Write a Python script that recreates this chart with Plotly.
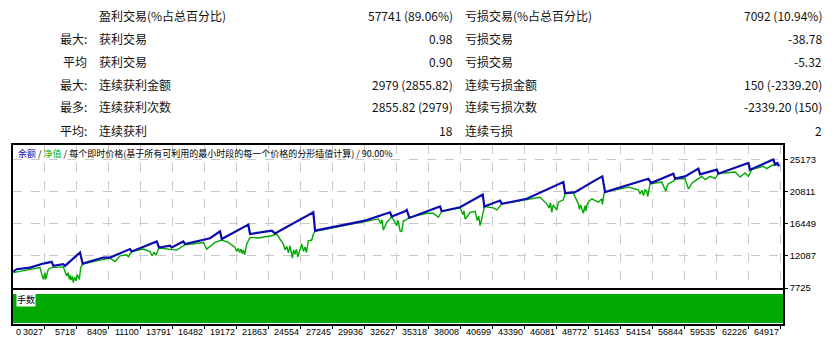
import plotly.graph_objects as go

# ---------------- data ----------------
bal_x = [445, 731, 1850, 2968, 3675, 3809, 4650, 4793, 6055, 6282,
         8014, 8578, 10260, 10403, 12505, 12699, 13624, 13767, 14742, 14885,
         16988, 17829, 17972, 20209, 20352, 22177, 22454, 25675, 25818, 30023,
         32126, 32268, 33387, 33530, 33748, 36330, 36473, 38012, 39921, 40056,
         41376, 41519, 43621, 46699, 46842, 47683, 49366, 49979, 50206, 53848,
         54075, 55950, 56093, 56934, 58052, 58195, 59600, 59734, 62257, 62400,
         64359, 64502, 64700, 64833]
bal_y = [9952, 10279, 10498, 11044, 11277, 10730, 10962, 10730, 12547, 11044,
         11864, 11864, 13011, 12684, 14050, 13230, 13462, 13230, 14050, 13694,
         14480, 15416, 14377, 16331, 15060, 15511, 15142, 18011, 15511, 16877,
         18011, 17424, 18148, 18339, 17246, 18790, 18148, 18694, 20429, 18790,
         19609, 19158, 19841, 22109, 20606, 20743, 22341, 22888, 20743, 22573,
         21972, 23256, 22573, 22888, 23939, 23161, 23803, 23256, 24704, 23803,
         25169, 24527, 24704, 24254]

eq_x = [445, 2691, 2969, 3112, 3180, 3254, 3389, 3675, 4651, 4936,
        5050, 5155, 5230, 5298, 5400, 5492, 5600, 5719, 5800, 5912,
        6000, 6114, 6282, 7459, 8578, 8999, 9419, 9982, 10117, 10403,
        11378, 11942, 12110, 12279, 12447, 12699, 14188, 14886, 16425, 16710,
        16988, 17409, 17972, 18527, 19091, 19230, 19368, 19480, 19595, 19700,
        19788, 19900, 20074, 20352, 21050, 22177, 22597, 23152, 23300, 23438,
        23580, 23716, 23910, 24020, 24137, 24250, 24364, 24530, 24700, 24840,
        24978, 25100, 25255, 25541, 25676, 25818, 27778, 30024, 31142, 31350,
        31450, 31563, 31848, 32269, 32480, 32690, 32800, 32967, 33110, 33245,
        33388, 33749, 35212, 35767, 36188, 36474, 38013, 38250, 38340, 38434,
        38650, 38854, 39275, 39468, 39580, 39695, 39838, 40056, 40813, 41099,
        41520, 43622, 44741, 45304, 45500, 45620, 45725, 45850, 46003, 46150,
        46280, 46701, 46843, 47541, 47962, 48050, 48150, 48382, 48520, 48600,
        48668, 48800, 49089, 49644, 49930, 49980, 50149, 52167, 53008, 53150,
        53294, 53430, 53572, 53700, 53799, 53992, 54976, 55200, 55312, 55420,
        55531, 55952, 56154, 56936, 57100, 57213, 57350, 57500, 57920, 58340,
        58618, 59038, 59459, 59736, 61140, 61561, 61982, 62260, 62543, 63520,
        63806, 64226, 64504, 64700, 64833]
eq_y = [9815, 10498, 8913, 9815, 8900, 9364, 10279, 10498, 10593, 9364,
        9800, 8913, 9450, 8800, 9300, 8449, 9200, 8700, 9500, 9227,
        8900, 10498, 10962, 11413, 11782, 11317, 12096, 12233, 11959, 12683,
        13011, 12683, 12096, 12547, 12233, 13148, 12875, 13599, 13913, 13011,
        13325, 13913, 14241, 13913, 13230, 12700, 13100, 12547, 13011, 12400,
        12900, 12233, 13694, 14596, 14514, 14828, 15060, 13694, 12900, 13400,
        12500, 13462, 11782, 12900, 12300, 13011, 11959, 13000, 13694, 12700,
        13300, 12547, 14145, 14241, 15060, 15415, 16057, 16782, 17109, 16500,
        17000, 15607, 16645, 17423, 16700, 16194, 16900, 15511, 15415, 16877,
        16877, 17328, 17874, 17874, 17328, 18147, 18612, 17700, 18200, 17109,
        17500, 18011, 18147, 16877, 17500, 16194, 17109, 18789, 18612, 18339,
        19158, 19705, 20060, 19158, 18600, 19300, 18011, 19000, 18694, 18300,
        19377, 19705, 20524, 20606, 19158, 18400, 19000, 17874, 18900, 18200,
        18926, 19400, 19841, 19377, 19841, 19063, 20743, 21426, 21071, 20500,
        21000, 20300, 21071, 20900, 20155, 21890, 22109, 21400, 20879, 21500,
        21890, 22245, 22573, 22573, 21800, 21207, 21500, 21972, 22437, 22887,
        22437, 22887, 22573, 23256, 23475, 22792, 23338, 22887, 23803, 24253,
        23939, 24390, 24390, 24527, 24254]

lot_size = 0.01

y_ticks = [7725, 12087, 16449, 20811, 25173]
x_ticks = [0, 3027, 5718, 8409, 11100, 13791, 16482, 19172, 21863, 24554,
           27245, 29936, 32627, 35318, 38008, 40699, 43390, 46081, 48772,
           51463, 54154, 56844, 59535, 62226, 64917]

row_prefix = ["", "最大:", "平均", "最大:", "最多:", "平均:"]
win_labels = ["盈利交易(%占总百分比)", "获利交易", "获利交易", "连续获利金额", "连续获利次数", "连续获利"]
win_values = ["57741 (89.06%)", "0.98", "0.90", "2979 (2855.82)", "2855.82 (2979)", "18"]
loss_labels = ["亏损交易(%占总百分比)", "亏损交易", "亏损交易", "连续亏损金额", "连续亏损次数", "连续亏损"]
loss_values = ["7092 (10.94%)", "-38.78", "-5.32", "150 (-2339.20)", "-2339.20 (150)", "2"]

legend_parts = ["余额", "净值", "每个即时价格(基于所有可利用的最小时段的每一个价格的分形插值计算)", "90.00%"]
lots_label = "手数"

# ---------------- layout constants ----------------
W, H = 837, 346
L, R, T, B = 13, 54, 145, 22
PW = W - L - R
PH = H - T - B
X_MIN, X_MAX = 420, 65169
Y_MIN, Y_MAX = 7725, 27150
BLUE = "#0B0BAE"
GREEN = "#00AA00"
CJK = "Noto Sans CJK SC"
NUM = "Liberation Sans"


def px_x(p):
    return (p - L) / PW


def px_y(p):
    return (H - B - p) / PH


fig = go.Figure()
fig.add_trace(go.Scatter(x=eq_x, y=eq_y, mode="lines",
                         line=dict(color=GREEN, width=1.4),
                         xaxis="x", yaxis="y", showlegend=False, hoverinfo="skip"))
fig.add_trace(go.Scatter(x=bal_x, y=bal_y, mode="lines",
                         line=dict(color=BLUE, width=2.2),
                         xaxis="x", yaxis="y", showlegend=False, hoverinfo="skip"))
fig.add_trace(go.Scatter(x=[X_MIN, X_MAX], y=[lot_size, lot_size], mode="lines",
                         fill="tozeroy", fillcolor=GREEN,
                         line=dict(color=GREEN, width=0),
                         xaxis="x2", yaxis="y2", showlegend=False, hoverinfo="skip"))

main_bottom = (H - B - 288) / PH
sub_top = (H - B - 290) / PH

frame = dict(showline=True, mirror=True, linecolor="black", linewidth=1.5, zeroline=False)
grid = dict(showgrid=True, gridcolor="#C8C8C8", griddash="dash", gridwidth=1)

fig.update_layout(
    width=W, height=H, autosize=False,
    margin=dict(l=L, r=R, t=T, b=B, pad=0),
    paper_bgcolor="white", plot_bgcolor="white",
    showlegend=False,
    xaxis=dict(domain=[0, 1], range=[X_MIN, X_MAX], anchor="y",
               tickvals=x_ticks, showticklabels=False, ticks="", **grid, **frame),
    yaxis=dict(domain=[main_bottom, 1], range=[Y_MIN, Y_MAX], anchor="x", side="right",
               tickvals=y_ticks, ticktext=[str(v) for v in y_ticks],
               ticks="outside", ticklen=3, tickcolor="black",
               tickfont=dict(family=NUM, size=9.5, color="black"), **grid, **frame),
    xaxis2=dict(domain=[0, 1], range=[X_MIN, X_MAX], anchor="y2",
                tickvals=x_ticks, showticklabels=False, ticks="outside", ticklen=3,
                tickcolor="black", showgrid=False, **frame),
    yaxis2=dict(domain=[0, sub_top], range=[-lot_size / 29, lot_size * 33 / 29], anchor="x2",
                showticklabels=False, ticks="", showgrid=False, **frame),
)

ann = []
# x tick labels (right-aligned to tick, MT4 style)
for v in x_ticks:
    if v < X_MIN:
        ann.append(dict(xref="paper", yref="paper", x=px_x(14), y=px_y(332),
                        text=str(v), showarrow=False, xanchor="left", yanchor="middle",
                        font=dict(family=NUM, size=9, color="black")))
    else:
        ann.append(dict(xref="x", yref="paper", x=v, y=px_y(332),
                        text=str(v), showarrow=False, xanchor="right", yanchor="middle",
                        xshift=1, font=dict(family=NUM, size=9, color="black")))

# legend inside chart
legend_html = (f"<span style='color:{BLUE}'>{legend_parts[0]}</span> / "
               f"<span style='color:{GREEN}'>{legend_parts[1]}</span> / "
               f"{legend_parts[2]} / {legend_parts[3]}")
ann.append(dict(xref="paper", yref="paper", x=px_x(16), y=px_y(153), text=legend_html,
                showarrow=False, xanchor="left", yanchor="middle",
                font=dict(family=CJK, size=9, color="black")))
ann.append(dict(xref="paper", yref="paper", x=px_x(16), y=px_y(299), text=lots_label,
                showarrow=False, xanchor="left", yanchor="middle", bgcolor="white",
                borderpad=0, font=dict(family=CJK, size=9, color="black")))

# statistics table
row_y = [15, 38, 61, 84, 107, 130]
cols = [(row_prefix, 89, "right"), (win_labels, 97, "left"), (win_values, 455, "right"),
        (loss_labels, 463, "left"), (loss_values, 824, "right")]
for texts, xp, anchor in cols:
    for t, yp in zip(texts, row_y):
        if not t:
            continue
        ann.append(dict(xref="paper", yref="paper", x=px_x(xp), y=px_y(yp), text=t,
                        showarrow=False, xanchor=anchor, yanchor="middle",
                        font=dict(family=CJK, size=12, color="#111111")))

fig.update_layout(annotations=ann)
fig.write_html("out.html")
